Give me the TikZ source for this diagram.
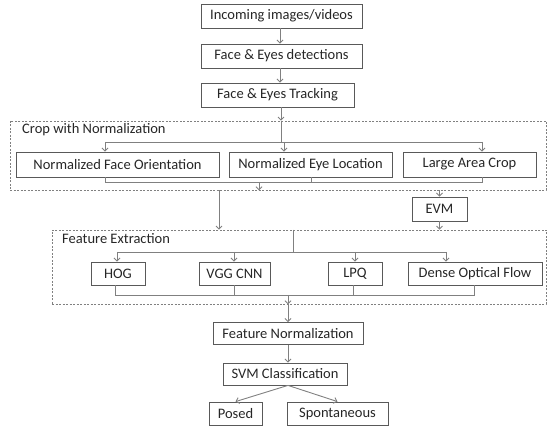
\documentclass[tikz,border=0pt]{standalone}
\usepackage{fontspec}
\setmainfont{Carlito}
\usetikzlibrary{arrows.meta}
\definecolor{boxc}{HTML}{595959}
\definecolor{linec}{HTML}{808080}
\definecolor{txt}{HTML}{262626}
\begin{document}
\begin{tikzpicture}[x=1pt,y=-1pt, font=\fontsize{14.5}{16}\selectfont,
 box/.style={draw=boxc, line width=0.8pt, inner sep=0pt, text=txt, minimum height=24pt},
 grp/.style={draw=linec, dash pattern=on 2pt off 1.5pt, line width=0.6pt, inner sep=0pt},
 lbl/.style={anchor=west, inner sep=0pt, text=txt},
 con/.style={draw=linec, line width=0.9pt},
 arr/.style={con, -{Straight Barb[length=3pt,width=6pt]}}]
\useasboundingbox (0,0) rectangle (547,427);

% groups
\node[grp, minimum width=536pt, minimum height=69pt] (crop) at (278,155.5) {};
\node[grp, minimum width=494pt, minimum height=74pt] (feat) at (299,267) {};
\node[lbl] (cropl) at (22,130) {Crop with Normalization};
\node[lbl] (featl) at (62,239) {Feature Extraction};

% boxes
\node[box, minimum width=161pt] (inc) at (281.5,16) {Incoming images/videos};
\node[box, minimum width=161pt] (det) at (281.5,56) {Face \& Eyes detections};
\node[box, minimum width=153pt] (trk) at (277.5,95) {Face \& Eyes Tracking};
\node[box, minimum width=203pt, minimum height=25pt] (nfo) at (117.5,164.5) {Normalized Face Orientation};
\node[box, minimum width=163pt, minimum height=25pt] (nel) at (310.5,164.5) {Normalized Eye Location};
\node[box, minimum width=133pt, minimum height=25pt] (lac) at (469.5,164.5) {Large Area Crop};
\node[box, minimum width=55pt] (evm) at (439.5,209) {EVM};
\node[box, minimum width=54pt, minimum height=23pt] (hog) at (118,273.5) {HOG};
\node[box, minimum width=71pt, minimum height=23pt] (vgg) at (234.5,273.5) {VGG CNN};
\node[box, minimum width=54pt, minimum height=23pt] (lpq) at (355,273.5) {LPQ};
\node[box, minimum width=134pt, minimum height=23pt] (dof) at (475,273.5) {Dense Optical Flow};
\node[box, minimum width=150pt, minimum height=22pt] (fn) at (288,333.5) {Feature Normalization};
\node[box, minimum width=124pt, minimum height=22pt] (svm) at (285,374) {SVM Classification};
\node[box, minimum width=53pt, minimum height=23pt] (posed) at (235.5,413.5) {Posed};
\node[box, minimum width=101pt, minimum height=23pt] (spont) at (337.5,413.5) {Spontaneous};

% top chain
\draw[arr] (inc.south -| 280,0) -- (det.north -| 280,0);
\draw[arr] (det.south -| 280,0) -- (trk.north -| 280,0);
\draw[arr] (trk.south -| 281,0) -- (crop.north -| 281,0);

% crop split
\coordinate (s1) at (281,142);
\coordinate (sL) at (105,142);
\coordinate (sR) at (482,142);
\draw[con] (crop.north -| s1) -- (s1);
\draw[con] (sL) -- (sR);
\draw[arr] (sL) -- (nfo.north -| sL);
\draw[arr] (s1 -| 284,0) -- (nel.north -| 284,0);
\draw[arr] (sR) -- (lac.north -| sR);

% crop merge
\coordinate (mL) at (105,182);
\coordinate (mR) at (482,182);
\coordinate (mM) at (311,182);
\coordinate (mA) at (259,182);
\draw[con] (nfo.south -| mL) -- (mL) -- (mR) -- (lac.south -| mR);
\draw[con] (nel.south -| mM) -- (mM);
\draw[arr] (mA) -- (crop.south -| mA);
\draw[arr] (crop.south -| 219,0) -- (feat.north -| 219,0);
\draw[arr] (crop.south -| evm) -- (evm.north);
\draw[arr] (evm.south) -- (feat.north -| evm);

% feature split
\coordinate (f1) at (293,252);
\coordinate (fL) at (117,252);
\coordinate (fR) at (446,252);
\draw[con] (feat.north -| f1) -- (f1);
\draw[con] (fL) -- (fR);
\draw[arr] (fL) -- (hog.north -| fL);
\draw[arr] (fL -| 234,0) -- (vgg.north -| 234,0);
\draw[arr] (fL -| 355,0) -- (lpq.north -| 355,0);
\draw[arr] (fR) -- (dof.north -| fR);

% feature merge
\coordinate (gL) at (115,295);
\coordinate (gR) at (474,295);
\coordinate (gA) at (288,295);
\draw[con] (hog.south -| gL) -- (gL) -- (gR) -- (dof.south -| gR);
\draw[con] (vgg.south -| 234,0) -- (gL -| 234,0);
\draw[con] (lpq.south -| 353,0) -- (gL -| 353,0);
\draw[arr] (gA) -- (feat.south -| gA);
\draw[arr] (feat.south -| fn) -- (fn.north);
\draw[arr] (fn.south) -- (svm.north -| fn);
\draw[arr] (svm.south -| fn) -- (posed.north);
\draw[arr] (svm.south -| fn) -- (spont.north);
\end{tikzpicture}
\end{document}
